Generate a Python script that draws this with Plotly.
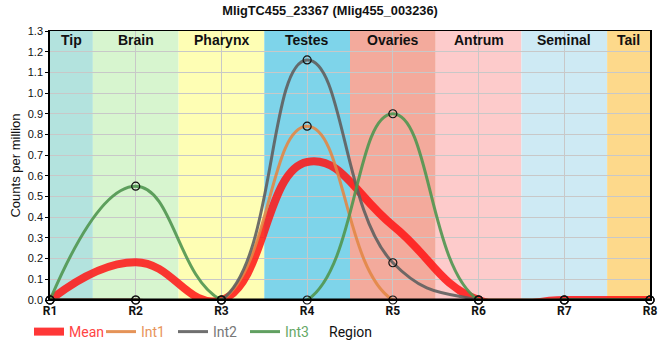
import plotly.graph_objects as go

regions = ["R1", "R2", "R3", "R4", "R5", "R6", "R7", "R8"]
x_pos = [1, 2, 3, 4, 5, 6, 7, 8]
mean_vals = [0.0, 0.183, 0.0, 0.667, 0.36, 0.0, 0.0, 0.0]
int1_vals = [0.0, 0.0, 0.0, 0.84, 0.0, 0.0, 0.0, 0.0]
int2_vals = [0.0, 0.0, 0.0, 1.16, 0.18, 0.0, 0.0, 0.0]
int3_vals = [0.0, 0.55, 0.0, 0.0, 0.9, 0.0, 0.0, 0.0]

band_names = ["Tip", "Brain", "Pharynx", "Testes", "Ovaries", "Antrum", "Seminal", "Tail"]
band_start = [1.0, 1.5, 2.5, 3.5, 4.5, 5.5, 6.5, 7.5]
band_end = [1.5, 2.5, 3.5, 4.5, 5.5, 6.5, 7.5, 8.0]
band_colors = ["#b3e3de", "#d7f5cf", "#fefeb4", "#7ed4ea", "#f3aa9c", "#fdcbcb", "#ceeaf4", "#fdd98b"]

fig = go.Figure()

shapes = []
for s, e, c in zip(band_start, band_end, band_colors):
    shapes.append(dict(type="rect", xref="x", yref="paper", x0=s, x1=e, y0=0, y1=1,
                       fillcolor=c, line=dict(width=0), layer="below"))

annotations = []
for s, e, n in zip(band_start, band_end, band_names):
    annotations.append(dict(x=(s + e) / 2, y=1.0, xref="x", yref="paper", text="<b>%s</b>" % n,
                            showarrow=False, yanchor="top", yshift=1,
                            font=dict(family="Liberation Sans, Arial", size=14, color="#111")))

spline = dict(shape="spline", smoothing=1.3)

fig.add_trace(go.Scatter(x=x_pos, y=mean_vals, mode="lines", name="<span style='color:#f44'>Mean</span>",
                         line=dict(color="rgba(255,20,20,0.85)", width=8, **spline)))
fig.add_trace(go.Scatter(x=x_pos, y=int1_vals, mode="lines", name="<span style='color:#e8955a'>Int1</span>",
                         line=dict(color="rgba(226,135,70,0.9)", width=3, **spline)))
fig.add_trace(go.Scatter(x=x_pos, y=int2_vals, mode="lines", name="<span style='color:#777'>Int2</span>",
                         line=dict(color="rgba(95,95,95,0.9)", width=3, **spline)))
fig.add_trace(go.Scatter(x=x_pos, y=int3_vals, mode="lines", name="<span style='color:#66a866'>Int3</span>",
                         line=dict(color="rgba(80,150,80,0.9)", width=3, **spline)))
for vals in (int1_vals, int2_vals, int3_vals):
    fig.add_trace(go.Scatter(x=x_pos, y=vals, mode="markers", showlegend=False, cliponaxis=False,
                             marker=dict(symbol="circle-open", size=8, color="#111",
                                         line=dict(width=1.2, color="#111"))))

annotations.append(dict(x=0.5, y=-0.119, xref="paper", yref="paper", text="Region", showarrow=False,
                        font=dict(family="Roboto", size=14, color="#111"), yanchor="middle"))

fig.update_layout(
    width=660, height=360,
    margin=dict(l=50, r=10, t=31, b=60),
    paper_bgcolor="white", plot_bgcolor="white",
    title=dict(text="<b>MligTC455_23367 (Mlig455_003236)</b>", x=0.5, xanchor="center", y=0.972,
               yanchor="middle", font=dict(family="Liberation Sans, Arial", size=12.8, color="#111")),
    shapes=shapes, annotations=annotations,
    showlegend=True,
    legend=dict(orientation="h", x=-0.035, xanchor="left", y=-0.119, yanchor="middle",
                font=dict(family="Roboto", size=14), bgcolor="rgba(0,0,0,0)",
                entrywidth=27, entrywidthmode="pixels", tracegroupgap=0),
    xaxis=dict(range=[1, 8], tickvals=x_pos, ticktext=["<b>%s</b>" % r for r in regions],
               showgrid=True, gridcolor="#c8c8c8", gridwidth=1, zeroline=False, automargin=False,
               showline=True, linecolor="black", linewidth=1, mirror=True,
               ticks="", tickfont=dict(family="Roboto", size=12, color="#111")),
    yaxis=dict(range=[0, 1.3], dtick=0.1, tickformat=".1f", showgrid=True, gridcolor="#c8c8c8",
               gridwidth=1, zeroline=False, showline=True, linecolor="black", linewidth=1.5,
               mirror=True, ticks="outside", ticklen=3, tickcolor="black", automargin=False,
               title=dict(text="Counts per million", font=dict(family="Liberation Sans, Arial", size=13, color="#111"),
                          standoff=4),
               tickfont=dict(family="Liberation Sans, Arial", size=11, color="#111")),
)
fig.add_shape(type="line", xref="paper", yref="y", x0=0, x1=1, y0=0, y1=0,
              line=dict(color="black", width=3), layer="above")

fig.write_html("out.html", config={"displayModeBar": False},
               post_script="document.body.style.margin='0px';")
